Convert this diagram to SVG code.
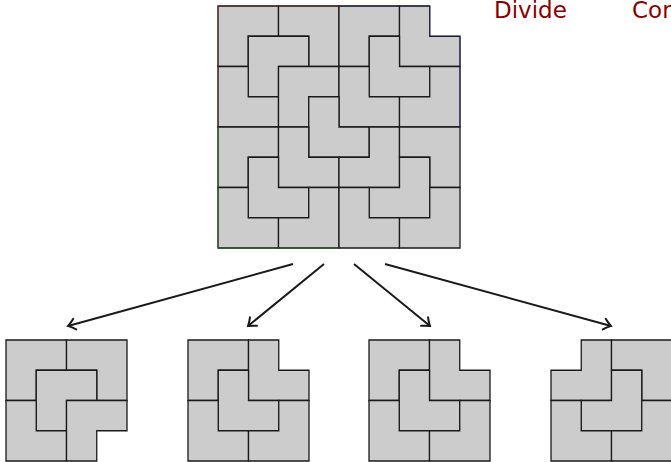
<svg xmlns="http://www.w3.org/2000/svg" xmlns:xlink="http://www.w3.org/1999/xlink" width="671" height="462" viewBox="0 0 671 462">
  <style>
    .t { fill: #cccccc; stroke: #1a1a1a; stroke-width: 1.3; stroke-linejoin: miter; }
    .edge { fill: none; stroke-width: 1; stroke-opacity: 0.6; }
    .arrow { fill: none; stroke: #1a1a1a; stroke-width: 2; marker-end: url(#to); }
    .label { font-family: "DejaVu Sans", "Liberation Sans", sans-serif; font-size: 23px; fill: #8b0000; }
  </style>
  <defs>
    <!-- L-trominoes inside a 2x2 block of 30.25px cells; name = missing corner -->
    <path id="mTL" d="M30.25 0H60.5V60.5H0V30.25H30.25Z"/>
    <path id="mTR" d="M0 0H30.25V30.25H60.5V60.5H0Z"/>
    <path id="mBL" d="M0 0H60.5V60.5H30.25V30.25H0Z"/>
    <path id="mBR" d="M0 0H60.5V30.25H30.25V60.5H0Z"/>
    <marker id="to" viewBox="-10 -8 12 16" refX="0" refY="0" markerWidth="12" markerHeight="16" markerUnits="userSpaceOnUse" orient="auto">
      <path d="M-7,-5.5 C-4,-2.5 -1.2,-0.8 0,0 C-1.2,0.8 -4,2.5 -7,5.5" fill="none" stroke="#1a1a1a" stroke-width="2" stroke-linecap="round"/>
    </marker>
  </defs>

  <!-- 8x8 board with the top-right square removed -->
  <g id="board" transform="translate(218,6)">
    <g class="t">
      <use href="#mBR" x="0" y="0"/>
      <use href="#mBL" x="60.5" y="0"/>
      <use href="#mBR" x="30.25" y="30.25"/>
      <use href="#mTR" x="0" y="60.5"/>
      <use href="#mBR" x="60.5" y="60.5"/>

      <use href="#mBR" x="121" y="0"/>
      <use href="#mTR" x="181.5" y="0"/>
      <use href="#mTR" x="151.25" y="30.25"/>
      <use href="#mTR" x="121" y="60.5"/>
      <use href="#mTL" x="181.5" y="60.5"/>

      <use href="#mTR" x="90.75" y="90.75"/>

      <use href="#mBR" x="0" y="121"/>
      <use href="#mTR" x="60.5" y="121"/>
      <use href="#mTR" x="30.25" y="151.25"/>
      <use href="#mTR" x="0" y="181.5"/>
      <use href="#mTL" x="60.5" y="181.5"/>

      <use href="#mTL" x="121" y="121"/>
      <use href="#mBL" x="181.5" y="121"/>
      <use href="#mTL" x="151.25" y="151.25"/>
      <use href="#mTR" x="121" y="181.5"/>
      <use href="#mTL" x="181.5" y="181.5"/>
    </g>
    <!-- quadrant outline tints -->
    <path class="edge" stroke="#8b1a1a" d="M0 121V0H121"/>
    <path class="edge" stroke="#1a1a7a" d="M121 0H211.75V30.25H242V121"/>
    <path class="edge" stroke="#1a6b1a" d="M0 121V242H121"/>
  </g>

  <!-- quadrant boards -->
  <g id="quad-tl" class="t" transform="translate(6,340)">
    <use href="#mBR" x="0" y="0"/>
    <use href="#mBL" x="60.5" y="0"/>
    <use href="#mBR" x="30.25" y="30.25"/>
    <use href="#mTR" x="0" y="60.5"/>
    <use href="#mBR" x="60.5" y="60.5"/>
  </g>
  <g id="quad-tr" class="t" transform="translate(188,340)">
    <use href="#mBR" x="0" y="0"/>
    <use href="#mTR" x="60.5" y="0"/>
    <use href="#mTR" x="30.25" y="30.25"/>
    <use href="#mTR" x="0" y="60.5"/>
    <use href="#mTL" x="60.5" y="60.5"/>
  </g>
  <g id="quad-bl" class="t" transform="translate(369,340)">
    <use href="#mBR" x="0" y="0"/>
    <use href="#mTR" x="60.5" y="0"/>
    <use href="#mTR" x="30.25" y="30.25"/>
    <use href="#mTR" x="0" y="60.5"/>
    <use href="#mTL" x="60.5" y="60.5"/>
  </g>
  <g id="quad-br" class="t" transform="translate(551,340)">
    <use href="#mTL" x="0" y="0"/>
    <use href="#mBL" x="60.5" y="0"/>
    <use href="#mTL" x="30.25" y="30.25"/>
    <use href="#mTR" x="0" y="60.5"/>
    <use href="#mTL" x="60.5" y="60.5"/>
  </g>

  <!-- connectors -->
  <g id="connectors">
    <line class="arrow" x1="293" y1="264" x2="68" y2="326"/>
    <line class="arrow" x1="324" y1="264" x2="248" y2="326"/>
    <line class="arrow" x1="354" y1="264" x2="430" y2="326"/>
    <line class="arrow" x1="385" y1="264" x2="611" y2="326"/>
  </g>

  <!-- headings -->
  <text class="label" x="494" y="18">Divide</text>
  <text class="label" x="632" y="18">Conquer</text>
</svg>
